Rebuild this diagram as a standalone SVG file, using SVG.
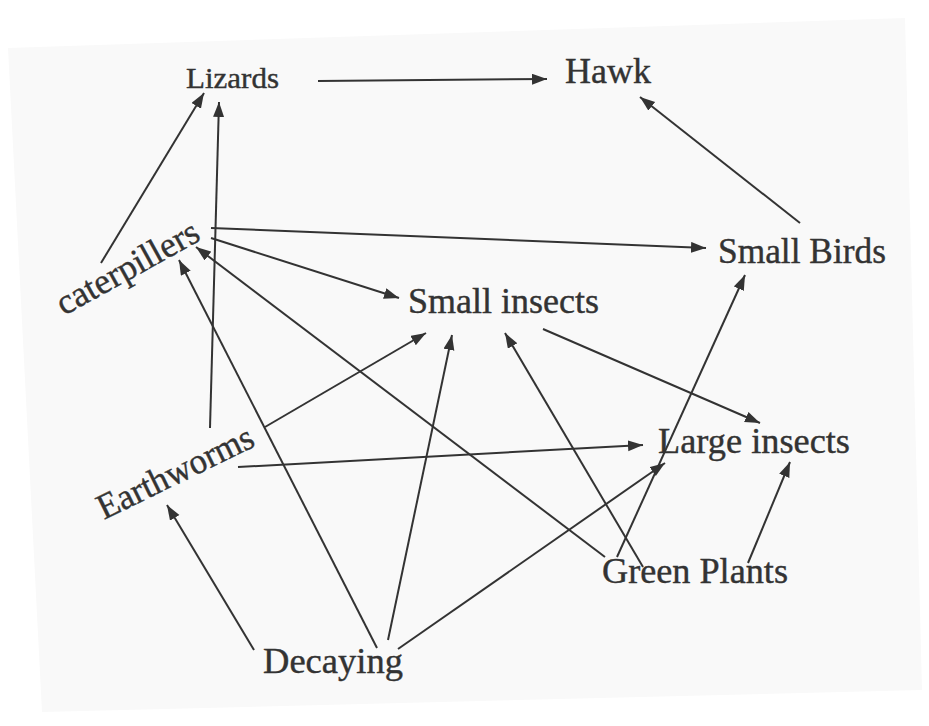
<svg xmlns="http://www.w3.org/2000/svg" width="929" height="726" viewBox="0 0 929 726">
<style>
.lbl{font-family:"Liberation Serif","Times New Roman",serif;font-size:36px;fill:#333;stroke:#333;stroke-width:0.4;}
.edge{stroke:#333;stroke-width:2;fill:none;marker-end:url(#ah);}
</style>
<defs>
<marker id="ah" markerUnits="userSpaceOnUse" markerWidth="16" markerHeight="12" refX="15" refY="5.5" orient="auto">
<path d="M0,0 L15,5.5 L0,11 z" fill="#333"/>
</marker>
</defs>
<rect width="929" height="726" fill="#ffffff"/>
<polygon points="8,48 905,18 922,690 42,712" fill="#f9f9f9"/>
<g id="connectors">
<line class="edge" x1="318" y1="81" x2="547" y2="79"/>
<line class="edge" x1="800" y1="223" x2="640" y2="97"/>
<line class="edge" x1="101" y1="263" x2="204" y2="93"/>
<line class="edge" x1="210" y1="428" x2="219" y2="102"/>
<line class="edge" x1="211" y1="228" x2="706" y2="248"/>
<line class="edge" x1="211" y1="238" x2="399" y2="298"/>
<line class="edge" x1="377" y1="648" x2="179" y2="260"/>
<line class="edge" x1="605" y1="557" x2="196" y2="247"/>
<line class="edge" x1="265" y1="427" x2="426" y2="333"/>
<line class="edge" x1="388" y1="640" x2="452" y2="335"/>
<line class="edge" x1="643" y1="567" x2="505" y2="333"/>
<line class="edge" x1="543" y1="329" x2="760" y2="423"/>
<line class="edge" x1="238" y1="467" x2="643" y2="445"/>
<line class="edge" x1="398" y1="649" x2="665" y2="463"/>
<line class="edge" x1="617" y1="557" x2="745" y2="275"/>
<line class="edge" x1="748" y1="563" x2="790" y2="462"/>
<line class="edge" x1="254" y1="650" x2="167" y2="505"/>
</g>
<g id="node-lizards"><text class="lbl" x="186" y="88" textLength="93" lengthAdjust="spacingAndGlyphs" style="font-size:30px">Lizards</text></g>
<g id="node-hawk"><text class="lbl" x="565" y="83" textLength="86" lengthAdjust="spacingAndGlyphs">Hawk</text></g>
<g id="node-small-birds"><text class="lbl" x="718" y="263" textLength="168" lengthAdjust="spacingAndGlyphs">Small Birds</text></g>
<g id="node-caterpillers"><text class="lbl" transform="translate(64,316) rotate(-29)" x="0" y="0" textLength="158" lengthAdjust="spacingAndGlyphs">caterpillers</text></g>
<g id="node-small-insects"><text class="lbl" x="408" y="313" textLength="191" lengthAdjust="spacingAndGlyphs">Small insects</text></g>
<g id="node-earthworms"><text class="lbl" transform="translate(104,520) rotate(-26)" x="0" y="0" textLength="170" lengthAdjust="spacingAndGlyphs">Earthworms</text></g>
<g id="node-large-insects"><text class="lbl" x="658" y="453" textLength="192" lengthAdjust="spacingAndGlyphs">Large insects</text></g>
<g id="node-green-plants"><text class="lbl" x="602" y="583" textLength="186" lengthAdjust="spacingAndGlyphs">Green Plants</text></g>
<g id="node-decaying"><text class="lbl" x="263" y="673" textLength="140" lengthAdjust="spacingAndGlyphs">Decaying</text></g>
</svg>
